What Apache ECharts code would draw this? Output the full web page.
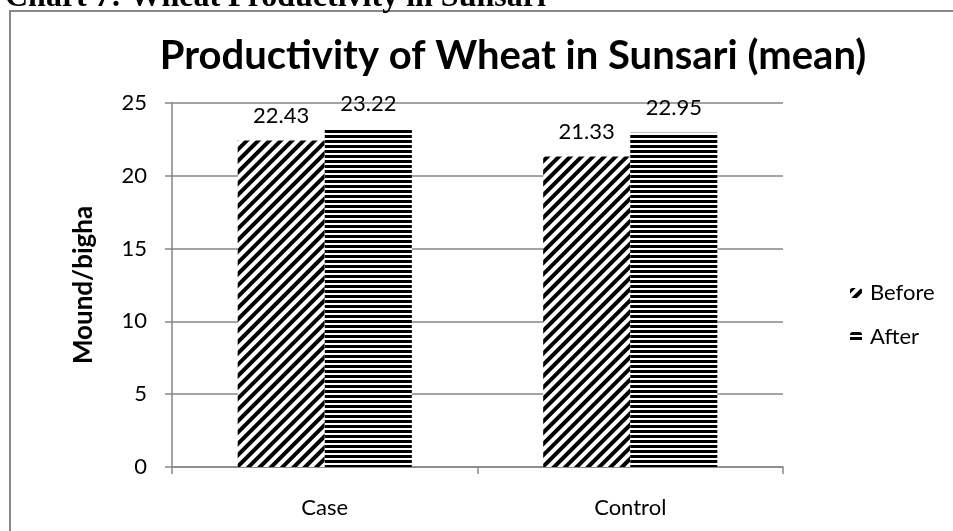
<!DOCTYPE html>
<html>
<head>
<meta charset="utf-8">
<script src="https://cdn.jsdelivr.net/npm/echarts@6/dist/echarts.min.js"></script>
<style>
  html, body { margin: 0; padding: 0; background: #fff; }
  #main { width: 953px; height: 531px; }
</style>
</head>
<body>
<div id="main"></div>
<script>
// data
var categories = ['Case', 'Control'];
var beforeValues = [22.43, 21.33];
var afterValues = [23.22, 22.95];
var yTicks = [0, 5, 10, 15, 20, 25];

var font = 'Lato';

var chart = echarts.init(document.getElementById('main'));
chart.setOption({
    animation: false,
    backgroundColor: '#fff',
    textStyle: { fontFamily: font, color: '#000' },
    title: {
        text: 'Productivity of Wheat in Sunsari (mean)',
        left: 508,
        textAlign: 'center',
        top: 31,
        textStyle: { fontFamily: font, fontSize: 40, fontWeight: 'bold', color: '#000' }
    },
    // frame and the cut-off caption above it
    graphic: [
        {
            type: 'rect',
            shape: { x: 10, y: 11, width: 1000, height: 600 },
            style: { fill: null, stroke: '#888', lineWidth: 2 },
            silent: true
        },
        {
            type: 'text',
            x: 5,
            y: 14,
            style: {
                text: 'Chart 7: Wheat Productivity in Sunsari',
                font: 'bold 32px "Liberation Serif"',
                fill: '#000',
                verticalAlign: 'bottom'
            }
        }
    ],
    legend: {
        orient: 'vertical',
        left: 845,
        top: 277,
        itemWidth: 12,
        itemHeight: 10,
        itemGap: 22,
        textStyle: { fontFamily: font, fontSize: 22, color: '#000', padding: [0, 0, 0, 3] },
        data: ['Before', 'After']
    },
    grid: { left: 172, right: 170, top: 103, bottom: 64, containLabel: false },
    xAxis: {
        type: 'category',
        data: categories,
        axisLine: { lineStyle: { color: '#868686', width: 1.5 } },
        axisTick: { show: true, length: 7, lineStyle: { color: '#868686', width: 1.5 } },
        axisLabel: { margin: 30, fontFamily: font, fontSize: 22, color: '#000' }
    },
    yAxis: {
        type: 'value',
        min: yTicks[0],
        max: yTicks[yTicks.length - 1],
        interval: 5,
        name: 'Mound/bigha',
        nameLocation: 'middle',
        nameGap: 75,
        nameTextStyle: { fontFamily: font, fontSize: 26, fontWeight: 'bold', color: '#000' },
        axisLine: { show: true, lineStyle: { color: '#868686', width: 1.5 } },
        axisTick: { show: true, length: 7, lineStyle: { color: '#868686', width: 1.5 } },
        axisLabel: { margin: 25, fontFamily: font, fontSize: 22, color: '#000' },
        splitLine: { lineStyle: { color: '#868686', width: 1.5 } }
    },
    series: [
        {
            name: 'Before',
            type: 'bar',
            data: beforeValues,
            barWidth: '28.5%',
            barGap: '0%',
            itemStyle: {
                color: '#fff',
                decal: {
                    symbol: 'rect',
                    symbolSize: 1,
                    dashArrayX: [1, 0],
                    dashArrayY: [4, 4],
                    rotation: -Math.PI / 4,
                    color: '#000'
                }
            },
            label: { show: true, position: 'top', distance: 14, fontFamily: font, fontSize: 22, color: '#000' }
        },
        {
            name: 'After',
            type: 'bar',
            data: afterValues,
            barWidth: '28.5%',
            itemStyle: {
                color: '#fff',
                decal: {
                    symbol: 'rect',
                    symbolSize: 1,
                    dashArrayX: [1, 0],
                    dashArrayY: [3, 2],
                    color: '#000'
                }
            },
            label: { show: true, position: 'top', distance: 14, fontFamily: font, fontSize: 22, color: '#000' }
        }
    ]
});
</script>
</body>
</html>
